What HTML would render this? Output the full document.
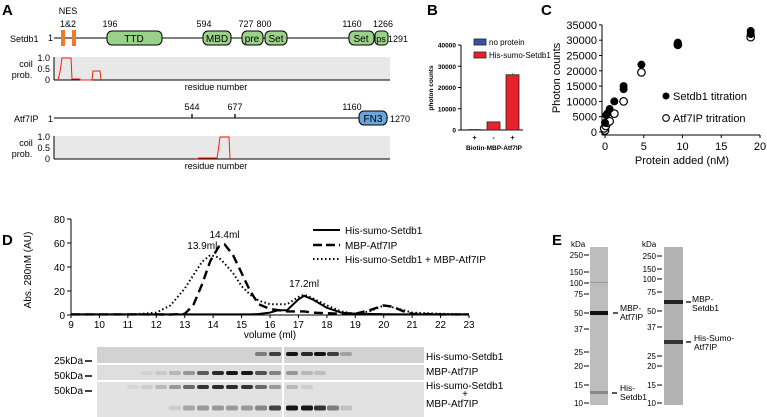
<!DOCTYPE html>
<html><head><meta charset="utf-8"><style>
html,body{margin:0;padding:0;background:#fff;}
svg{display:block;font-family:"Liberation Sans",Arial,sans-serif;}
</style></head><body>
<svg id="fig" width="767" height="417" viewBox="0 0 767 417" xmlns="http://www.w3.org/2000/svg">
<g font-weight="bold" font-size="15" fill="#000">
<text x="2" y="15">A</text>
<text x="427" y="15">B</text>
<text x="541" y="15">C</text>
<text x="2" y="245">D</text>
<text x="552" y="245">E</text>
</g>

<g id="panelA" font-size="9">
<text x="10" y="42">Setdb1</text>
<text x="48" y="41">1</text>
<line x1="54" y1="38" x2="388" y2="38" stroke="#000" stroke-width="1"/>
<rect x="61" y="30" width="4" height="16" fill="#f07a2a"/>
<rect x="72" y="30" width="4" height="16" fill="#f07a2a"/>
<text x="68" y="14" text-anchor="middle">NES</text>
<text x="68" y="27" text-anchor="middle">1&amp;2</text>
<g fill="#9ad28a" stroke="#000" stroke-width="1">
<rect x="107" y="31" width="55" height="14" rx="5"/>
<rect x="203" y="31" width="28" height="14" rx="5"/>
<rect x="242" y="31" width="21" height="14" rx="5"/>
<rect x="265" y="31" width="22" height="14" rx="5"/>
<rect x="349" y="31" width="25" height="14" rx="5"/>
<rect x="375" y="31" width="13" height="14" rx="4"/>
</g>
<g font-size="10" text-anchor="middle">
<text x="134" y="42">TTD</text><text x="217" y="42">MBD</text><text x="252" y="42">pre</text>
<text x="276" y="42">Set</text><text x="361" y="42">Set</text><text x="381" y="42" font-size="9">ps</text>
</g>
<g text-anchor="middle">
<text x="110" y="27">196</text><text x="204" y="27">594</text><text x="246" y="27">727</text>
<text x="264" y="27">800</text><text x="352" y="27">1160</text><text x="383" y="27">1266</text>
</g>
<text x="388" y="42">1291</text>

<rect x="54" y="57" width="336" height="23" fill="#e8e8e8"/>
<line x1="54" y1="80" x2="390" y2="80" stroke="#000"/>
<line x1="54" y1="57" x2="54" y2="80" stroke="#000"/>
<g font-size="9" text-anchor="end"><text x="50" y="61">1.0</text><text x="50" y="72">0.5</text><text x="50" y="83">0</text></g>
<text x="26" y="67" text-anchor="middle">coil</text><text x="22" y="78" text-anchor="middle">prob.</text>
<polyline points="58,80 60,72 62,58 71,58 72,79 80,79 80,80 92,80 93,71 100,71 101,80" fill="none" stroke="#e21" stroke-width="1"/>
<text x="216" y="90" text-anchor="middle">residue number</text>

<text x="14" y="122">Atf7IP</text>
<text x="48" y="122">1</text>
<line x1="54" y1="118" x2="388" y2="118" stroke="#000"/>
<line x1="192" y1="114" x2="192" y2="118" stroke="#000" stroke-width="1.3"/>
<line x1="235" y1="114" x2="235" y2="118" stroke="#000" stroke-width="1.3"/>
<text x="192" y="110" text-anchor="middle">544</text><text x="235" y="110" text-anchor="middle">677</text>
<text x="352" y="110" text-anchor="middle">1160</text>
<rect x="359" y="111" width="28" height="14" rx="5" fill="#6aa6d9" stroke="#000"/>
<text x="373" y="122" text-anchor="middle" font-size="10">FN3</text>
<text x="390" y="122">1270</text>
<rect x="54" y="136" width="336" height="23" fill="#e8e8e8"/>
<line x1="54" y1="159" x2="390" y2="159" stroke="#000"/>
<line x1="54" y1="136" x2="54" y2="159" stroke="#000"/>
<g font-size="9" text-anchor="end"><text x="50" y="140">1.0</text><text x="50" y="151">0.5</text><text x="50" y="162">0</text></g>
<text x="26" y="146" text-anchor="middle">coil</text><text x="22" y="157" text-anchor="middle">prob.</text>
<polyline points="196,159 199,158 206,158 217,158 218,152 220,137 229,137 230,159" fill="none" stroke="#e21" stroke-width="1"/>
<text x="216" y="169" text-anchor="middle">residue number</text>
</g>

<g id="panelB"></g>
<g id="panelC"></g>
<g id="panelD"></g>
<g id="gelD"></g>
<g id="panelE"></g>
</svg>
<script>
// ---------- Panel B data ----------
const bCategories = ["+", "-", "+"];
const bValues = [200, 3800, 26000];
const bColors = ["#d33", "#e8222a", "#e8222a"];
const bTicks = [0, 10000, 20000, 30000, 40000];
// ---------- Panel C data ----------
const cSetdb1X = [0, 0.15, 0.3, 0.6, 1.2, 2.4, 2.4, 4.7, 9.4, 9.4, 18.8, 18.8];
const cSetdb1Y = [3000, 5500, 6000, 7500, 10000, 14000, 15000, 22000, 28500, 29200, 32000, 33000];
const cAtfX = [0, -0.1, 0.1, 0.3, 0.6, 1.2, 2.4, 4.7, 9.4, 18.8];
const cAtfY = [500, 1200, 2000, 3000, 3500, 6000, 10000, 19500, 28500, 31000];
const cXTicks = [0, 5, 10, 15, 20];
const cYTicks = [0, 5000, 10000, 15000, 20000, 25000, 30000, 35000];
// ---------- Panel D data ----------
const dVolume = [9,10,11,11.5,12,12.5,13,13.3,13.6,13.9,14.2,14.4,14.7,15,15.3,15.6,16,16.3,16.6,17,17.2,17.5,18,18.5,19,19.5,20,20.3,20.7,21,22,23];
const dSetdb1 = [0.5,0.5,0.5,0.5,0.5,0.5,0.5,0.5,0.5,0.5,0.5,0.5,0.5,0.5,0.5,0.8,2,4,4,13,16,13,6,2,1,0.8,0.7,0.6,0.5,0.5,0.5,0.5];
const dAtf7ip = [0.5,0.5,0.5,0.5,0.5,0.3,1,8,25,45,57,59,50,35,20,9,5,4,3,3,3,2,1.5,1,1,4,8,7,3,1,0.5,0.5];
const dComplex = [0.5,0.5,0.5,1,2,8,22,33,44,50,48,43,35,24,17,12,9,9,9,15,17,14,8,3,1,3,8,6.5,4,2,1,0.5];
const dXTicks = [9,10,11,12,13,14,15,16,17,18,19,20,21,22,23];
const dYTicks = [0,20,40,60,80];
const dLabels = ["13.9ml","14.4ml","17.2ml"];
const dLabelX = [13.9, 14.4, 17.2];
const dLabelY = [51, 60, 19];

const NS = "http://www.w3.org/2000/svg";
function mk(parent, tag, attrs, text){
  const e = document.createElementNS(NS, tag);
  for (const k in attrs) e.setAttribute(k, attrs[k]);
  if (text !== undefined) e.textContent = text;
  parent.appendChild(e); return e;
}

(function(){
  const g = document.getElementById("panelB");
  const x0 = 461, yB = 130, yT = 45, vMax = 40000;
  const yS = v => yB - v / vMax * (yB - yT);
  mk(g,"line",{x1:x0,y1:yT,x2:x0,y2:yB,stroke:"#000","stroke-width":1});
  mk(g,"line",{x1:x0,y1:yB,x2:523,y2:yB,stroke:"#000","stroke-width":1});
  bTicks.forEach(t=>{
    mk(g,"line",{x1:x0-3,y1:yS(t),x2:x0,y2:yS(t),stroke:"#000"});
    mk(g,"text",{x:x0-5,y:yS(t)+2.5,"font-size":6.5,"font-weight":"bold","text-anchor":"end"},t);
  });
  const bw = 13, step = 19, start = 468;
  bCategories.forEach((c,i)=>{
    const bx = start + i*step;
    const r = mk(g,"rect",{x:bx,y:yS(bValues[i]),width:bw,height:yB-yS(bValues[i]),fill:bColors[i],stroke:"#222","stroke-width":0.8});
    
    
    mk(g,"text",{x:bx+bw/2,y:140,"font-size":7,"font-weight":"bold","text-anchor":"middle"},c);
  });
  mk(g,"line",{x1:start+2*step+bw/2,y1:yS(26600),x2:start+2*step+bw/2,y2:yS(26000),stroke:"#555"});
  mk(g,"text",{x:494,y:150,"font-size":6.5,"font-weight":"bold","text-anchor":"middle"},"Biotin-MBP-Atf7IP");
  mk(g,"text",{x:0,y:0,"font-size":6.5,"font-weight":"bold","text-anchor":"middle",transform:"translate(433,88) rotate(-90)"},"photon counts");
  mk(g,"rect",{x:474,y:39,width:12,height:6,fill:"#3a4fa5",stroke:"#222","stroke-width":0.8});
  mk(g,"text",{x:489,y:45,"font-size":8},"no protein");
  mk(g,"rect",{x:474,y:52,width:12,height:6,fill:"#e8222a",stroke:"#222","stroke-width":0.8});
  mk(g,"text",{x:489,y:58,"font-size":8},"His-sumo-Setdb1");
})();

(function(){
  const g = document.getElementById("panelC");
  const xS = v => 605 + v * 7.75;
  const yS = v => 132 - v / 1000 * 3.06;
  mk(g,"line",{x1:602,y1:yS(35000),x2:602,y2:135,stroke:"#000"});
  mk(g,"line",{x1:602,y1:135,x2:xS(20),y2:135,stroke:"#000"});
  cYTicks.forEach(t=>{
    mk(g,"line",{x1:599,y1:yS(t),x2:602,y2:yS(t),stroke:"#000"});
    mk(g,"text",{x:597,y:yS(t)+4,"font-size":11,"text-anchor":"end"},t);
  });
  cXTicks.forEach(t=>{
    mk(g,"line",{x1:xS(t),y1:135,x2:xS(t),y2:138,stroke:"#000"});
    mk(g,"text",{x:xS(t),y:150,"font-size":11,"text-anchor":"middle"},t);
  });
  mk(g,"text",{x:682,y:164,"font-size":11,"text-anchor":"middle"},"Protein added (nM)");
  mk(g,"text",{x:0,y:0,"font-size":11,"text-anchor":"middle",transform:"translate(560,78) rotate(-90)"},"Photon counts");
  cAtfX.forEach((x,i)=>{
    const c = mk(g,"circle",{cx:xS(x),cy:yS(cAtfY[i]),r:3.8,fill:"#fff",stroke:"#000","stroke-width":1.2});
    
    
  });
  cSetdb1X.forEach((x,i)=>{
    const c = mk(g,"circle",{cx:xS(x),cy:yS(cSetdb1Y[i]),r:4,fill:"#000"});
    
    
  });
  mk(g,"circle",{cx:666,cy:96,r:3.5,fill:"#000"});
  mk(g,"text",{x:673,y:100,"font-size":11},"Setdb1 titration");
  mk(g,"circle",{cx:666,cy:118,r:3.3,fill:"#fff",stroke:"#000","stroke-width":1.1});
  mk(g,"text",{x:673,y:122,"font-size":11},"Atf7IP tritration");
})();

(function(){
  const g = document.getElementById("panelD");
  const xS = v => 71 + (v - 9) * (398 / 14);
  const yS = v => 315 - v * 1.2;
  mk(g,"line",{x1:71,y1:yS(80),x2:71,y2:315,stroke:"#000"});
  mk(g,"line",{x1:71,y1:315,x2:xS(23),y2:315,stroke:"#000"});
  dYTicks.forEach(t=>{
    mk(g,"line",{x1:67,y1:yS(t),x2:71,y2:yS(t),stroke:"#000"});
    mk(g,"text",{x:65,y:yS(t)+4,"font-size":10,"text-anchor":"end"},t);
  });
  dXTicks.forEach(t=>{
    mk(g,"line",{x1:xS(t),y1:315,x2:xS(t),y2:318,stroke:"#000"});
    mk(g,"text",{x:xS(t),y:328,"font-size":10,"text-anchor":"middle"},t);
  });
  mk(g,"text",{x:270,y:338,"font-size":10,"text-anchor":"middle"},"volume (ml)");
  mk(g,"text",{x:0,y:0,"font-size":10,"text-anchor":"middle",transform:"translate(31,270) rotate(-90)"},"Abs. 280nM (AU)");
  function line(vals, dash, w, name){
    const pts = dVolume.map((v,i)=>xS(v).toFixed(1)+","+yS(vals[i]).toFixed(1)).join(" ");
    const p = mk(g,"polyline",{points:pts,fill:"none",stroke:"#000","stroke-width":w,"stroke-dasharray":dash,"stroke-linejoin":"round"});
    
    
  }
  line(dComplex,"1.5,2.5",2,"complex-trace");
  line(dAtf7ip,"9,5",2.4,"atf7ip-trace");
  line(dSetdb1,"none",2,"setdb1-trace");
  dLabels.forEach((l,i)=>{
    mk(g,"text",{x:xS(dLabelX[i]) + (i===0?-8:0),y:yS(dLabelY[i])-5,"font-size":10,"text-anchor":"middle"},l);
  });
  mk(g,"line",{x1:313,y1:230,x2:340,y2:230,stroke:"#000","stroke-width":2});
  mk(g,"line",{x1:313,y1:245,x2:340,y2:245,stroke:"#000","stroke-width":2.4,"stroke-dasharray":"9,4"});
  mk(g,"line",{x1:313,y1:259,x2:340,y2:259,stroke:"#000","stroke-width":2,"stroke-dasharray":"1.5,2.5"});
  mk(g,"text",{x:345,y:234,"font-size":10},"His-sumo-Setdb1");
  mk(g,"text",{x:345,y:249,"font-size":10},"MBP-Atf7IP");
  mk(g,"text",{x:345,y:263,"font-size":10},"His-sumo-Setdb1 + MBP-Atf7IP");
})();

const laneX = [133,147,161,175,189,203,218,232,247,261,275,292,307,320,333,346];
const row1 = [0,0,0,0,0,0,0,0,0,0.45,0.8,1,0.9,1,0.8,0.25];
const row2 = [0,0.05,0.1,0.2,0.35,0.65,0.9,1,1,0.7,0.45,0.35,0.2,0.15,0,0];
const row3a = [0.05,0.1,0.2,0.35,0.6,0.85,0.9,0.9,0.85,0.6,0.35,0.2,0.1,0,0,0];
const row3b = [0,0,0,0.1,0.3,0.35,0.35,0.35,0.35,0.45,0.8,1,1,0.85,0.5,0.15];
(function(){
  const g = document.getElementById("gelD");
  const rows = [[347,16,"#d2d2d2"],[365,15,"#dedede"],[382,35,"#e2e2e2"]];
  rows.forEach(r=>mk(g,"rect",{x:97,y:r[0],width:327,height:r[1],fill:r[2]}));
  function bands(arr,y,h){
    arr.forEach((v,i)=>{ if(v>0){
      const b = mk(g,"rect",{x:laneX[i]-6,y:y-h/2,width:12,height:h,rx:2,fill:"#000",opacity:(v*0.9).toFixed(2)});
      
      
    }});
  }
  bands(row1,354,4); bands(row2,373,4); bands(row3a,387,4); bands(row3b,408,5);
  mk(g,"rect",{x:282,y:347,width:2,height:70,fill:"#fff"});
  [["25kDa",361],["50kDa",376],["50kDa",391]].forEach(a=>{
    mk(g,"text",{x:83,y:a[1]+3,"font-size":10,"text-anchor":"end"},a[0]);
    mk(g,"line",{x1:85,y1:a[1],x2:92,y2:a[1],stroke:"#000","stroke-width":1.5});
  });
  [["His-sumo-Setdb1",360],["MBP-Atf7IP",375],["His-sumo-Setdb1",389],["+",397],["MBP-Atf7IP",407]].forEach((a,i)=>{
    mk(g,"text",{x:i===3?465:426,y:a[1],"font-size":10,"text-anchor":i===3?"middle":"start"},a[0]);
  });
})();

(function(){
  const g = document.getElementById("panelE");
  mk(g,"rect",{x:590,y:247,width:18,height:158,fill:"#bdbdbd"});
  mk(g,"rect",{x:664,y:247,width:19,height:158,fill:"#b3b3b3"});
  mk(g,"rect",{x:590,y:311,width:18,height:4,fill:"#111"});
  mk(g,"rect",{x:590,y:391,width:18,height:3,fill:"#888"});
  mk(g,"rect",{x:590,y:282,width:18,height:1,fill:"#999"});
  mk(g,"rect",{x:664,y:300,width:19,height:4,fill:"#222"});
  mk(g,"rect",{x:664,y:340,width:19,height:4,fill:"#333"});
  const m1 = [["250",255],["150",272],["100",283],["75",294],["50",313],["37",329],["25",352],["20",366],["15",385],["10",403]];
  const m2 = [["250",256],["150",269],["100",279],["75",292],["50",311],["37",327],["25",356],["20",366],["15",385],["10",403]];
  mk(g,"text",{x:571,y:247,"font-size":8},"kDa");
  mk(g,"text",{x:642,y:247,"font-size":8},"kDa");
  m1.forEach(a=>{mk(g,"text",{x:583,y:a[1]+3,"font-size":8,"text-anchor":"end"},a[0]);mk(g,"line",{x1:584,y1:a[1],x2:589,y2:a[1],stroke:"#000"});});
  m2.forEach(a=>{mk(g,"text",{x:656,y:a[1]+3,"font-size":8,"text-anchor":"end"},a[0]);mk(g,"line",{x1:657,y1:a[1],x2:662,y2:a[1],stroke:"#000"});});
  [[613,313],[612,393],[686,302],[686,342]].forEach(p=>mk(g,"line",{x1:p[0],y1:p[1],x2:p[0]+5,y2:p[1],stroke:"#000","stroke-width":1.3}));
  [["MBP-",620,311],["Atf7IP",620,320],["His-",620,391],["Setdb1",620,400],["MBP-",692,302],["Setdb1",692,311],["His-Sumo-",694,341],["Atf7IP",694,350]].forEach(a=>
    mk(g,"text",{x:a[1],y:a[2],"font-size":8.5},a[0]));
})();
</script>
</body></html>
